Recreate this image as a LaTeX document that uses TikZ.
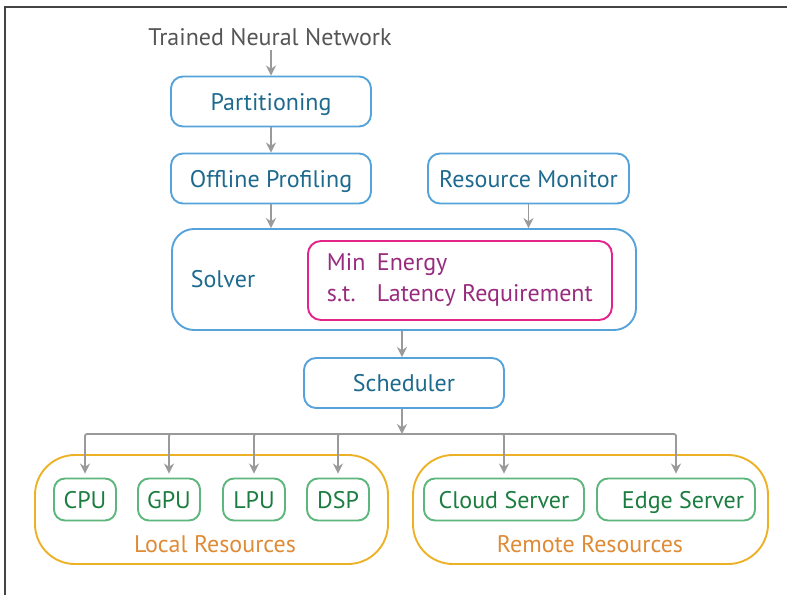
\documentclass[tikz,border=0pt]{standalone}
\usepackage{fontspec}
\setmainfont{PT Sans}
\usetikzlibrary{arrows.meta}
\definecolor{boxblue}{HTML}{55A3DA}
\definecolor{txtblue}{HTML}{1E6A8E}
\definecolor{boxmag}{HTML}{E3248A}
\definecolor{txtmag}{HTML}{982B7D}
\definecolor{boxgreen}{HTML}{5DB67B}
\definecolor{txtgreen}{HTML}{1B7D3F}
\definecolor{boxorange}{HTML}{EDB126}
\definecolor{txtorange}{HTML}{DF8B36}
\definecolor{arrgray}{HTML}{9A9A9A}
\definecolor{titlegray}{HTML}{555555}
\definecolor{framegray}{HTML}{444444}
\tikzset{
  lbl/.style={font=\fontsize{24}{29}\selectfont, text height=17pt, text depth=0pt},
  stage/.style={lbl, draw=boxblue, line width=1.9pt, rounded corners=12pt,
    text=txtblue, minimum width=200pt, minimum height=50pt, inner sep=0pt},
  unit/.style={lbl, draw=boxgreen, line width=1.9pt, rounded corners=11pt,
    text=txtgreen, minimum width=62pt, minimum height=42pt, inner sep=0pt},
  group/.style={draw=boxorange, line width=1.9pt, rounded corners=40pt,
    minimum height=109pt, inner sep=0pt},
  grouplbl/.style={lbl, text=txtorange},
  flow/.style={draw=arrgray, line width=1.8pt, -{Stealth[length=10pt,width=10pt]}},
}
\begin{document}
\begin{tikzpicture}[x=1pt,y=-1pt]
\useasboundingbox (0,0) rectangle (787,595);
% frame
\draw[framegray, line width=1.4pt] (787,7) -- (5,7) -- (5,595);

% resource groups (drawn first, underneath)
\node[group, minimum width=353pt] (local) at (211.5,509.5) {};
\node[group, minimum width=355pt] (remote) at (590.5,509.5) {};
\node[grouplbl] (locallbl) at (215,543.5) {Local Resources};
\node[grouplbl] (remotelbl) at (590,543.5) {Remote Resources};

% pipeline
\node[lbl, text=titlegray] (tnn) at (270,37) {Trained Neural Network};
\node[stage] (part) at (271,101.5) {Partitioning};
\node[stage] (prof) at (271,178.5) {Offline Profiling};
\node[stage, minimum width=201pt] (mon) at (528.5,178.5) {Resource Monitor};
\node[draw=boxblue, line width=1.9pt, rounded corners=22pt,
  minimum width=464pt, minimum height=101pt, inner sep=0pt] (solver) at (404,279.5) {};
\node[lbl, text=txtblue] (solvlbl) at (223,278.5) {Solver};
\node[font=\fontsize{24}{29}\selectfont, draw=boxmag, line width=1.9pt,
  rounded corners=13pt, text=txtmag, minimum width=304pt, minimum height=79pt,
  inner xsep=0pt, anchor=west]
  (obj) at (307,280.5) {\makebox[266pt][l]{\raisebox{-2pt}{\begin{tabular}{@{}p{50pt}@{}l@{}}Min&Energy\\[2pt]s.t.&Latency Requirement\end{tabular}}}};
\node[stage] (sched) at (404,383) {Scheduler};

% compute units
\node[unit] (cpu) at (85,499.5) {CPU};
\node[unit] (gpu) at (169,499.5) {GPU};
\node[unit] (lpu) at (254,499.5) {LPU};
\node[unit] (dsp) at (338,499.5) {DSP};
\node[unit, minimum width=160pt] (cloud) at (504,499.5) {Cloud Server};
\node[unit, minimum width=158pt] (edge) at (676,499.5) {\hspace*{14pt}Edge Server};

% connectors
\coordinate (bus) at (402,434);
\draw[flow] (part.north |- 0,50) -- (part.north);
\draw[flow] (part) -- (prof);
\draw[flow] (prof.south) -- (prof.south |- solver.north);
\draw[flow] (mon.south) -- (mon.south |- solver.north);
\draw[flow] (solver.south -| bus) -- (sched.north -| bus);
\draw[flow] (sched.south -| bus) -- (bus);
\foreach \u in {cpu,gpu,lpu,dsp,cloud,edge}
  \draw[flow, shorten >=4pt, rounded corners=2pt] (bus) -| (\u.north);
\end{tikzpicture}
\end{document}
